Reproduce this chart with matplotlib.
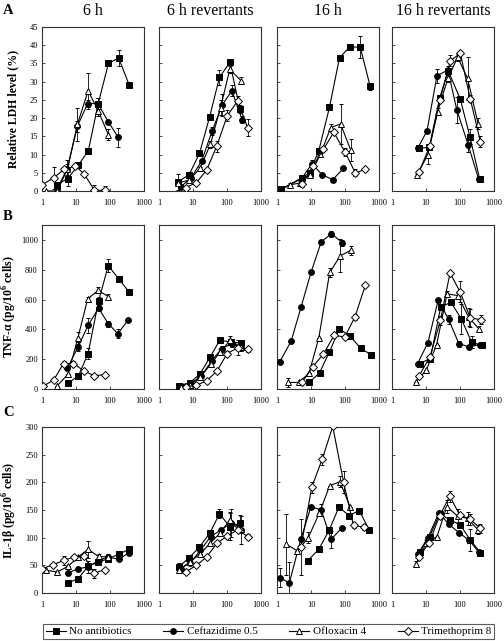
import matplotlib
matplotlib.use("Agg")
import matplotlib.pyplot as plt
from matplotlib.lines import Line2D

plt.rcParams["font.family"] = ["Liberation Serif", "DejaVu Serif"]
plt.rcParams["mathtext.fontset"] = "custom"
plt.rcParams["mathtext.rm"] = "Liberation Serif"
plt.rcParams["mathtext.bf"] = "Liberation Serif:bold"

# ── data: one list per panel (6 h, 6 h rev, 16 h, 16 h rev) ──────────────────
COLS = ["6 h", "6 h revertants", "16 h", "16 h revertants"]
SERIES = ["No antibiotics", "Ceftazidime 0.5", "Ofloxacin 4", "Trimethoprim 8"]

# Row A: relative LDH level (%)
ldh_none_x = [[2.7, 5.7, 11.5, 23, 45, 90, 180, 370],
              [3.6, 7.7, 15.5, 31, 60, 121, 240],
              [1.3, 5.4, 9.1, 17, 35, 69, 141, 282, 550],
              [6.3, 12.5, 25, 45, 102, 196, 380]]
ldh_none_y = [[1.7, 3.4, 7, 11, 24, 35, 36.5, 29],
              [2.5, 4.5, 10.3, 20.4, 31.2, 35.3, 22.5],
              [0.5, 3.6, 5, 11.1, 23, 36.6, 39.6, 39.4, 28.7],
              [11.7, 12, 25.4, 33, 25.2, 14.9, 3.2]]
ldh_none_e = [[0, 2, 0.5, 0.5, 1.5, 0.5, 2.3, 0.5],
              [2.3, 0.5, 0.5, 0.5, 2, 0.5, 1],
              [0, 0, 0, 0, 0.5, 0, 0.5, 3, 1],
              [0.5, 0.5, 0.5, 0.5, 0.5, 2, 0.5]]
ldh_ceft_x = [[2.7, 5.5, 11, 22, 44, 89, 175],
              [4.3, 9, 18, 36.6, 72, 139, 280],
              [1.3, 5.4, 10.7, 21, 43.6, 89],
              [5.7, 10.7, 21, 44, 81, 175, 355]]
ldh_ceft_y = [[0.5, 6, 17.8, 24, 24, 19, 14.7],
              [1.1, 3.7, 8.3, 16.5, 23.6, 27.5, 19.6],
              [0.3, 3.5, 7.5, 4.5, 3.1, 6.2],
              [11.7, 16.5, 31.6, 33.2, 22.2, 12.6, 3.2]]
ldh_ceft_e = [[0, 2.5, 1.5, 1, 1.5, 0.5, 2.5],
              [0.5, 0.5, 0.5, 1, 3, 1.5, 1],
              [0, 0, 1, 0, 0, 0],
              [0.5, 0.5, 2, 1, 3.5, 2, 0.5]]
ldh_oflox_x = [[1.35, 2.8, 5.6, 11, 22.7, 45, 89],
               [3.6, 7.7, 16, 32.5, 64.5, 121, 257],
               [2.4, 4.8, 9.5, 19, 38, 74, 148],
               [5.3, 11.2, 22, 44, 85, 167, 340]]
ldh_oflox_y = [[0, 0, 6, 18.3, 27.5, 22, 15.5],
               [2.2, 3, 6.2, 12.8, 22.9, 33.4, 30.3],
               [1.7, 2.2, 4.5, 10.1, 17.4, 18.4, 11.2],
               [4.3, 9.8, 21.8, 30.9, 36.7, 30.9, 18.5]]
ldh_oflox_e = [[0, 0, 1.5, 4.5, 5, 1.5, 1.5],
               [0.5, 0.5, 0.5, 1, 2, 1, 1],
               [0.5, 0.5, 0.5, 0.5, 1, 5.5, 3],
               [0.5, 2.5, 1, 1, 1, 6, 1.5]]
ldh_trim_x = [[1, 2.2, 4.5, 9.6, 17, 35, 72],
              [6.1, 12.6, 25, 50, 101, 205, 404],
              [5.6, 11.5, 23, 46.8, 100, 200, 400],
              [6.2, 12.9, 25.8, 52, 102, 200, 400]]
ldh_trim_y = [[1.7, 3.6, 6, 6.8, 4.8, 0.2, 0.2],
              [0.9, 2.3, 5.7, 12.3, 20.6, 24.7, 17.4],
              [2, 6.9, 11.4, 16.1, 10.7, 5, 5.9],
              [5.2, 12.3, 25, 35.7, 37.8, 25.3, 13.5]]
ldh_trim_e = [[0, 3, 0.5, 0.5, 0.5, 1.5, 1.2],
              [0.5, 0.5, 0.5, 1.5, 1.5, 1.5, 2.3],
              [1, 0.5, 0.5, 0.5, 1, 1, 0.5],
              [0.5, 0.5, 0.5, 1.5, 0.5, 1, 1.5]]

# Row B: TNF-alpha (pg/10^6 cells)
tnf_none_x = [[5.8, 11.8, 22.7, 46, 89, 178, 370],
              [3.8, 8, 15.8, 32, 61, 127, 250],
              [9, 17.8, 35, 68, 144, 288, 575],
              [6.5, 13.4, 27, 54, 109, 220, 445]]
tnf_none_y = [[38, 89, 238, 589, 827, 740, 649],
              [22, 42, 98, 215, 327, 315, 309],
              [44, 109, 249, 404, 353, 273, 231],
              [171, 204, 549, 582, 471, 313, 293]]
tnf_none_e = [[0, 0, 40, 30, 45, 10, 10],
              [10, 10, 10, 10, 10, 10, 15],
              [0, 0, 0, 0, 0, 0, 0],
              [0, 0, 0, 0, 100, 40, 10]]
tnf_ceft_x = [[5.6, 11.5, 22.7, 46, 89, 170, 345],
              [4.3, 8.4, 17.7, 36, 70, 139, 260],
              [1.2, 2.6, 5.1, 10, 20, 40, 83],
              [5.7, 11.4, 23, 46, 93, 188, 380]]
tnf_ceft_y = [[140, 282, 427, 542, 438, 371, 464],
              [20, 35, 89, 191, 271, 304, 276],
              [182, 320, 549, 782, 987, 1042, 982],
              [171, 311, 600, 467, 304, 282, 298]]
tnf_ceft_e = [[0, 30, 50, 20, 20, 30, 10],
              [0, 0, 10, 10, 20, 20, 20],
              [0, 0, 0, 0, 0, 20, 20],
              [0, 0, 0, 30, 20, 10, 10]]
tnf_oflox_x = [[2.8, 5.8, 11.3, 22, 45, 89],
               [4.3, 8.4, 16.5, 34, 64, 124, 250],
               [2.1, 4.3, 8.7, 17, 35.5, 72.5, 151],
               [5.1, 10.2, 20.6, 41.6, 85, 180, 355]]
tnf_oflox_y = [[22, 98, 340, 604, 662, 620],
               [16, 27, 78, 171, 249, 327, 282],
               [44, 44, 104, 344, 782, 893, 931],
               [49, 127, 298, 638, 627, 482, 404]]
tnf_oflox_e = [[0, 0, 40, 10, 20, 20],
               [0, 0, 10, 20, 20, 30, 20],
               [30, 0, 0, 0, 30, 110, 30],
               [0, 0, 0, 20, 20, 60, 20]]
tnf_trim_x = [[1.07, 2.2, 4.3, 8.4, 17, 34, 70],
              [6.1, 12.6, 25, 50, 101, 205, 405],
              [5.4, 11.2, 23, 47.9, 98, 195, 400],
              [6.2, 13.1, 26.5, 51, 100, 200, 415]]
tnf_trim_y = [[18, 60, 171, 171, 122, 89, 96],
              [16, 24, 56, 118, 238, 276, 265],
              [44, 149, 233, 360, 349, 482, 698],
              [87, 216, 460, 778, 653, 478, 464]]
tnf_trim_e = [[0, 0, 20, 20, 0, 0, 0],
              [0, 0, 0, 0, 20, 50, 20],
              [0, 0, 0, 0, 0, 20, 0],
              [0, 0, 30, 0, 70, 60, 30]]

# Row C: IL-1beta (pg/10^6 cells)
il_none_x = [[5.8, 11.5, 22.7, 45, 90, 180, 360],
             [3.8, 7.8, 15.5, 31, 60, 121, 235],
             [7.9, 16.9, 34, 66, 132, 263, 525],
             [6.5, 12.8, 25, 52, 102, 200, 400]]
il_none_y = [[18, 26, 48, 56, 62, 70, 79],
             [47, 64, 83, 108, 143, 120, 126],
             [58, 79, 113, 155, 140, 149, 113],
             [74, 102, 143, 132, 123, 96, 73]]
il_none_e = [[0, 0, 0, 0, 0, 0, 0],
             [8, 0, 0, 0, 8, 25, 15],
             [0, 0, 0, 0, 0, 0, 0],
             [0, 0, 0, 0, 0, 20, 0]]
il_ceft_x = [[5.8, 11.5, 22.7, 46, 89, 178, 370],
             [4.3, 8.4, 16.5, 33, 66, 127, 250],
             [1.2, 2.3, 5, 10, 20, 39, 79],
             [5.8, 11.4, 24, 46, 93, 180, 360]]
il_ceft_y = [[36, 44, 47, 59, 65, 61, 73],
             [44, 55, 77, 102, 114, 126, 114],
             [28, 18, 97, 156, 150, 97, 117],
             [71, 100, 145, 125, 109, 96, 74]]
il_ceft_e = [[0, 0, 10, 0, 0, 0, 0],
             [0, 0, 0, 0, 0, 25, 25],
             [18, 38, 0, 0, 10, 15, 0],
             [0, 0, 0, 0, 0, 0, 0]]
il_oflox_x = [[1.35, 2.8, 5.8, 11.5, 22.7, 46, 89],
              [3.8, 8, 15.8, 32, 64, 121, 260],
              [1.9, 4, 8.3, 17.4, 35.5, 70.8, 141],
              [5.1, 10.2, 21, 41, 85, 167, 340]]
il_oflox_y = [[41, 38, 48, 65, 79, 66, 65],
              [41, 56, 70, 90, 109, 132, 115],
              [88, 76, 100, 144, 194, 201, 156],
              [53, 90, 102, 156, 139, 135, 114]]
il_oflox_e = [[0, 0, 0, 0, 15, 5, 5],
              [0, 0, 0, 0, 0, 15, 0],
              [55, 0, 10, 0, 0, 10, 0],
              [5, 5, 0, 12, 12, 12, 8]]
il_trim_x = [[1, 2.1, 4.3, 8.6, 17.3, 34, 69],
             [6.1, 12.6, 25, 51, 101, 205, 405],
             [5.1, 10.5, 21.4, 43.6, 91, 178, 363],
             [6.2, 12.5, 25, 50, 98, 200, 400]]
il_trim_y = [[44, 51, 59, 65, 67, 36, 42],
             [38, 50, 65, 90, 103, 114, 102],
             [83, 191, 242, 301, 200, 122, 119],
             [65, 91, 139, 175, 141, 133, 117]]
il_trim_e = [[0, 0, 8, 0, 0, 8, 0],
             [0, 0, 0, 0, 0, 0, 5],
             [50, 10, 10, 0, 20, 5, 5],
             [0, 0, 0, 10, 0, 10, 8]]

ROWS = [
    ("A", "Relative LDH level (%)", 45, list(range(0, 46, 5)),
     [(ldh_none_x, ldh_none_y, ldh_none_e), (ldh_ceft_x, ldh_ceft_y, ldh_ceft_e),
      (ldh_oflox_x, ldh_oflox_y, ldh_oflox_e), (ldh_trim_x, ldh_trim_y, ldh_trim_e)]),
    ("B", r"TNF-α (pg/10$^{\mathbf{6}}$ cells)", 1100, list(range(0, 1001, 200)),
     [(tnf_none_x, tnf_none_y, tnf_none_e), (tnf_ceft_x, tnf_ceft_y, tnf_ceft_e),
      (tnf_oflox_x, tnf_oflox_y, tnf_oflox_e), (tnf_trim_x, tnf_trim_y, tnf_trim_e)]),
    ("C", r"IL-1β (pg/10$^{\mathbf{6}}$ cells)", 300, list(range(0, 301, 50)),
     [(il_none_x, il_none_y, il_none_e), (il_ceft_x, il_ceft_y, il_ceft_e),
      (il_oflox_x, il_oflox_y, il_oflox_e), (il_trim_x, il_trim_y, il_trim_e)]),
]

# ── styles ───────────────────────────────────────────────────────────────────
STYLES = [dict(marker="s", mfc="black", ms=4.2),
          dict(marker="o", mfc="black", ms=4.2),
          dict(marker="^", mfc="white", ms=4.6),
          dict(marker="D", mfc="white", ms=3.8)]

W, H = 504, 641
fig = plt.figure(figsize=(W / 100, H / 100), dpi=100)

col_left = [42, 159, 277, 392]
col_w = 102
row_top = [27, 225, 427]
row_h = [164, 164, 166]
letter_y = [10, 217, 413]

for r, (letter, ylabel, ymax, yticks, series) in enumerate(ROWS):
    for c in range(4):
        ax = fig.add_axes([col_left[c] / W, 1 - (row_top[r] + row_h[r]) / H,
                           col_w / W, row_h[r] / H])
        for (xs, ys, es), st in zip(series, STYLES):
            ax.errorbar(xs[c], ys[c], yerr=es[c], color="black", lw=0.8,
                        mec="black", mew=0.7, elinewidth=0.6, capsize=1.6,
                        capthick=0.6, zorder=3, **st)
        ax.set_xscale("log")
        ax.set_xlim(1, 1000)
        ax.set_ylim(0, ymax)
        ax.set_xticks([1, 10, 100, 1000])
        ax.set_xticklabels(["1", "10", "100", "1000"])
        ax.minorticks_off()
        ax.set_yticks(yticks)
        ax.tick_params(axis="x", length=2, width=0.5, direction="in",
                       pad=6, labelsize=6)
        ax.tick_params(axis="y", length=2, width=0.5, direction="in",
                       pad=3, labelsize=6)
        if c > 0:
            ax.set_yticklabels([])
        for sp in ax.spines.values():
            sp.set_linewidth(0.8)
            sp.set_color("#333333")
        if c == 0:
            ax.set_ylabel(ylabel, fontsize=8.5, fontweight="bold")
            ax.yaxis.set_label_coords(-23 / col_w, 0.5)
        if r == 0:
            fig.text((col_left[c] + col_w / 2) / W, 1 - 11 / H, COLS[c],
                     ha="center", va="center", fontsize=11.5)
    fig.text(3 / W, 1 - letter_y[r] / H, letter, ha="left", va="center",
             fontsize=10.5, fontweight="bold")

handles = [Line2D([0], [0], color="black", lw=0.8, mec="black", mew=0.7, **st)
           for st in STYLES]
leg = fig.legend(handles, SERIES, loc="center", ncol=4, mode="expand",
                 bbox_to_anchor=(43 / W, 1 - 640 / H, 451 / W, 17 / H),
                 fontsize=8, frameon=True, fancybox=False, handlelength=1.8,
                 handletextpad=0.3, borderpad=0.25, columnspacing=1.0,
                 borderaxespad=0)
leg.get_frame().set_edgecolor("#333333")
leg.get_frame().set_linewidth(0.8)

fig.savefig("out.png", dpi=100, facecolor="white")
